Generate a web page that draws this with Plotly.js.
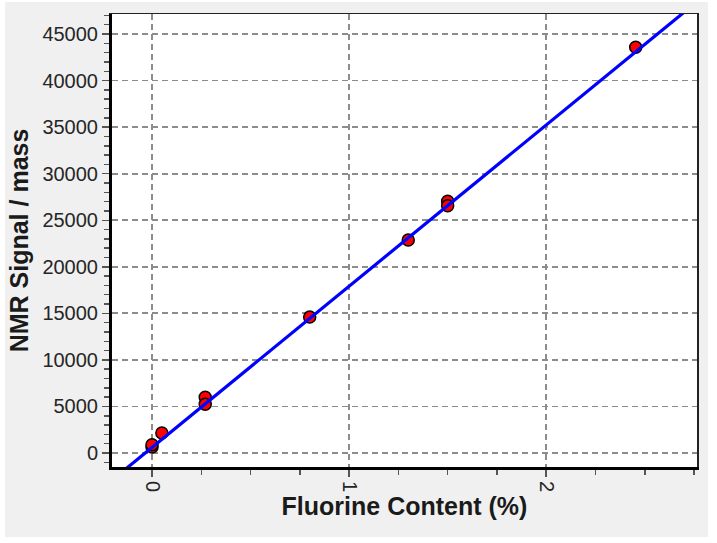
<!DOCTYPE html>
<html>
<head>
<meta charset="utf-8">
<script src="https://cdn.plot.ly/plotly-3.0.1.min.js"></script>
<style>
html, body { margin: 0; padding: 0; background: #ffffff; }
#chart { position: absolute; left: 5px; top: 2px; width: 703px; height: 535px; }
</style>
</head>
<body>
<div id="chart"></div>
<script>
// Measured samples
const fluorineContent = [0.0, 0.0, 0.05, 0.27, 0.27, 0.80, 1.30, 1.50, 1.50, 2.454];
const nmrSignal = [650, 900, 2150, 6000, 5250, 14600, 22880, 27050, 26550, 43580];
// Calibration (fit) line end points
const fitX = [-0.25, 2.8];
const fitY = [-3730, 49080];
// Axes
const xTicks = [0, 1, 2];
const xTickLabels = ['0', '1', '2'];
const yTicks = [0, 5000, 10000, 15000, 20000, 25000, 30000, 35000, 40000, 45000];
const yTickLabels = ['0', '5000', '10000', '15000', '20000', '25000', '30000', '35000', '40000', '45000'];

const traces = [
  {
    x: fluorineContent, y: nmrSignal, type: 'scatter', mode: 'markers',
    marker: { color: '#ff0000', size: 12, line: { color: '#000000', width: 1.5 } },
    showlegend: false, hoverinfo: 'x+y'
  },
  {
    x: fitX, y: fitY, type: 'scatter', mode: 'lines',
    line: { color: '#0000ff', width: 3.2 },
    showlegend: false, hoverinfo: 'skip'
  }
];

const tickFont = { family: 'Arial, Liberation Sans, sans-serif', size: 20, color: '#262626' };
const titleFont = { family: 'Arial, Liberation Sans, sans-serif', size: 25, color: '#1a1a1a', weight: 'bold' };

const layout = {
  width: 703, height: 535,
  paper_bgcolor: '#f0f0f0', plot_bgcolor: '#ffffff',
  margin: { l: 107, r: 11, t: 12, b: 70 },
  xaxis: {
    range: [-0.203, 2.765],
    tickmode: 'array', tickvals: xTicks, ticktext: xTickLabels,
    tickangle: 90, tickfont: tickFont,
    ticks: 'outside', ticklen: 7, tickwidth: 1.5, tickcolor: '#555555',
    minor: { dtick: 0.25, ticks: 'outside', ticklen: 5, tickwidth: 1.5, tickcolor: '#555555', showgrid: false },
    showgrid: true, gridcolor: '#8c8c8c', gridwidth: 1.8, griddash: '6px,4px',
    zeroline: false,
    showline: true, linecolor: '#000000', linewidth: 3, mirror: false,
    title: { text: 'Fluorine Content (%)', font: titleFont, standoff: 4 }
  },
  xaxis2: {
    overlaying: 'x', side: 'top', range: [-0.203, 2.765], showticklabels: false,
    showgrid: false, zeroline: false, showline: true, linecolor: '#222222', linewidth: 1.5, ticks: ''
  },
  yaxis: {
    range: [-1500, 47150],
    tickmode: 'array', tickvals: yTicks, ticktext: yTickLabels, tickfont: tickFont,
    ticks: 'outside', ticklen: 7, tickwidth: 1.5, tickcolor: '#555555',
    minor: { dtick: 1000, ticks: 'outside', ticklen: 5, tickwidth: 1.5, tickcolor: '#555555', showgrid: false },
    showgrid: true, gridcolor: '#8c8c8c', gridwidth: 1.8, griddash: '6px,4px',
    zeroline: false,
    showline: true, linecolor: '#000000', linewidth: 3, mirror: false,
    title: { text: 'NMR Signal / mass', font: titleFont, standoff: 8 }
  },
  yaxis2: {
    overlaying: 'y', side: 'right', range: [-1500, 47150], showticklabels: false,
    showgrid: false, zeroline: false, showline: true, linecolor: '#222222', linewidth: 1.5, ticks: ''
  },
  showlegend: false
};

// invisible trace to activate the mirrored frame axes
traces.push({ x: [null], y: [null], xaxis: 'x2', yaxis: 'y2', type: 'scatter', mode: 'markers', showlegend: false, hoverinfo: 'skip' });

Plotly.newPlot('chart', traces, layout, { displayModeBar: false, staticPlot: true });
</script>
</body>
</html>
